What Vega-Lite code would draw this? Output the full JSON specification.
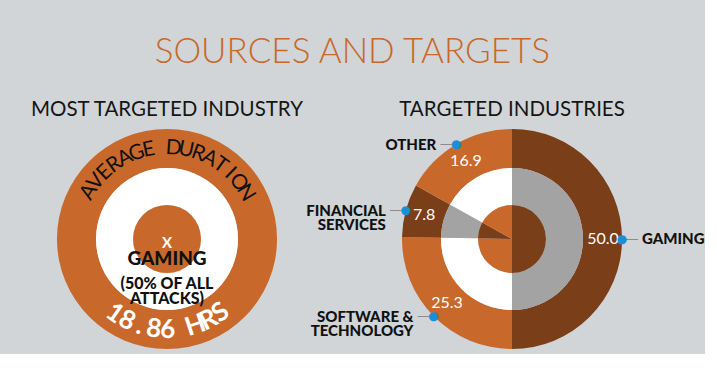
{
  "$schema": "https://vega.github.io/schema/vega-lite/v6.json",
  "background": "#d1d5d7",
  "padding": {"left": 0, "top": 34, "right": 0, "bottom": 0},
  "bounds": "flush",
  "title": {"text": "SOURCES AND TARGETS", "anchor": "middle", "font": "Lato", "fontSize": 35, "fontWeight": 300, "color": "#c8692a", "offset": 30},
  "spacing": 11,
  "hconcat": [
    {
      "title": {"text": "MOST TARGETED INDUSTRY", "font": "Lato", "fontSize": 20.5, "fontWeight": 400, "color": "#151515", "offset": 4},
      "width": 334,
      "height": 230,
      "data": {"values": [{"industry": "GAMING", "share": 50, "duration": 18.86}]},
      "resolve": {"scale": {"theta": "independent", "angle": "independent"}},
      "layer": [
        {"mark": {"type": "arc", "outerRadius": 110, "innerRadius": 71, "color": "#c8692b"}, "encoding": {"theta": {"field": "share", "type": "quantitative"}}},
        {"mark": {"type": "arc", "outerRadius": 71, "innerRadius": 34, "color": "#ffffff"}, "encoding": {"theta": {"field": "share", "type": "quantitative"}}},
        {"mark": {"type": "arc", "outerRadius": 34, "innerRadius": 0, "color": "#c8692b"}, "encoding": {"theta": {"field": "share", "type": "quantitative"}}},
        {
          "data": {"values": [
            {"ch": "A", "i": 0}, {"ch": "V", "i": 1}, {"ch": "E", "i": 2}, {"ch": "R", "i": 3}, {"ch": "A", "i": 4}, {"ch": "G", "i": 5}, {"ch": "E", "i": 6}, {"ch": " ", "i": 7},
            {"ch": "D", "i": 8}, {"ch": "U", "i": 9}, {"ch": "R", "i": 10}, {"ch": "A", "i": 11}, {"ch": "T", "i": 12}, {"ch": "I", "i": 13}, {"ch": "O", "i": 14}, {"ch": "N", "i": 15}
          ]},
          "mark": {"type": "text", "radius": 91, "font": "Lato", "fontSize": 21, "color": "#111111", "baseline": "middle", "align": "center"},
          "encoding": {
            "theta": {"field": "i", "type": "quantitative", "scale": {"domain": [0, 15], "range": [-1.03, 1.04], "zero": false, "nice": false}},
            "angle": {"field": "i", "type": "quantitative", "scale": {"domain": [0, 15], "range": [-59, 59.6], "zero": false, "nice": false}},
            "text": {"field": "ch"}
          }
        },
        {
          "data": {"values": [
            {"ch": "1", "i": 0}, {"ch": "8", "i": 1}, {"ch": ".", "i": 2}, {"ch": "8", "i": 3}, {"ch": "6", "i": 4}, {"ch": " ", "i": 5}, {"ch": "H", "i": 6}, {"ch": "R", "i": 7}, {"ch": "S", "i": 8}
          ]},
          "mark": {"type": "text", "radius": 91, "font": "Lato", "fontSize": 26, "fontWeight": "bold", "color": "#ffffff", "baseline": "middle", "align": "center"},
          "encoding": {
            "theta": {"field": "i", "type": "quantitative", "scale": {"domain": [0, 8], "range": [3.752, 2.513], "zero": false, "nice": false}},
            "angle": {"field": "i", "type": "quantitative", "scale": {"domain": [0, 8], "range": [35, -36], "zero": false, "nice": false}},
            "text": {"field": "ch"}
          }
        },
        {"mark": {"type": "text", "font": "Lato", "fontSize": 15, "fontWeight": "bold", "color": "#ffffff", "dy": 4}, "encoding": {"text": {"value": "X"}}},
        {"mark": {"type": "text", "font": "Lato", "fontSize": 19, "fontWeight": 900, "color": "#111111", "dy": 20}, "encoding": {"text": {"field": "industry"}}},
        {"mark": {"type": "text", "font": "Lato", "fontSize": 16, "fontWeight": 900, "color": "#111111", "dy": 45, "lineHeight": 15}, "encoding": {"text": {"value": ["(50% OF ALL", "ATTACKS)"]}}}
      ]
    },
    {
      "title": {"text": "TARGETED INDUSTRIES", "font": "Lato", "fontSize": 20.5, "fontWeight": 400, "color": "#151515", "offset": 4},
      "width": 334,
      "height": 230,
      "data": {"values": [
        {"industry": "GAMING", "label": "GAMING", "value": 50.0, "rank": 1},
        {"industry": "SOFTWARE & TECHNOLOGY", "label": "SOFTWARE &\nTECHNOLOGY", "value": 25.3, "rank": 2},
        {"industry": "FINANCIAL SERVICES", "label": "FINANCIAL\nSERVICES", "value": 7.8, "rank": 3},
        {"industry": "OTHER", "label": "OTHER", "value": 16.9, "rank": 4}
      ]},
      "encoding": {
        "theta": {"field": "value", "type": "quantitative", "stack": true},
        "order": {"field": "rank"}
      },
      "layer": [
        {"mark": {"type": "arc", "outerRadius": 110, "innerRadius": 71},
         "encoding": {"color": {"condition": {"test": "datum.industry === 'GAMING' || datum.industry === 'FINANCIAL SERVICES'", "value": "#7a3e18"}, "value": "#c8692b"}}},
        {"mark": {"type": "arc", "outerRadius": 71, "innerRadius": 34},
         "encoding": {"color": {"condition": {"test": "datum.industry === 'GAMING' || datum.industry === 'FINANCIAL SERVICES'", "value": "#a3a3a3"}, "value": "#ffffff"}}},
        {"mark": {"type": "arc", "outerRadius": 34, "innerRadius": 0},
         "encoding": {"color": {"condition": {"test": "datum.industry === 'GAMING' || datum.industry === 'FINANCIAL SERVICES'", "value": "#7a3e18"}, "value": "#c8692b"}}},
        {"mark": {"type": "text", "radius": 91, "font": "Lato", "fontSize": 16, "color": "#ffffff", "baseline": "middle"},
         "encoding": {"text": {"field": "value", "type": "quantitative", "format": ".1f"}}},
        {"mark": {"type": "text", "radius": 110, "font": "DejaVu Sans", "fontSize": 13, "color": "#8c8c8c", "baseline": "middle", "dx": 10},
         "encoding": {"text": {"condition": {"test": "datum.industry === 'GAMING'", "value": "—"}, "value": ""}}},
        {"mark": {"type": "text", "radius": 110, "font": "DejaVu Sans", "fontSize": 13, "color": "#8c8c8c", "baseline": "middle", "dx": -10},
         "encoding": {"text": {"condition": {"test": "datum.industry !== 'GAMING'", "value": "—"}, "value": ""}}},
        {"mark": {"type": "text", "radius": 110, "font": "DejaVu Sans", "fontSize": 12, "color": "#1b8fd6", "baseline": "middle"},
         "encoding": {"text": {"value": "●"}}},
        {"mark": {"type": "text", "radius": 110, "font": "Lato", "fontSize": 15, "fontWeight": 900, "color": "#111111", "baseline": "middle", "align": "left", "dx": 20, "lineBreak": "\n", "lineHeight": 14},
         "encoding": {"text": {"condition": {"test": "datum.industry === 'GAMING'", "field": "label"}, "value": ""}}},
        {"mark": {"type": "text", "radius": 110, "font": "Lato", "fontSize": 15, "fontWeight": 900, "color": "#111111", "baseline": "middle", "align": "right", "dx": -20, "dy": 1, "lineBreak": "\n", "lineHeight": 14},
         "encoding": {"text": {"condition": {"test": "datum.industry !== 'GAMING'", "field": "label"}, "value": ""}}}
      ]
    }
  ],
  "config": {"view": {"stroke": null}, "text": {"font": "Lato"}}
}
